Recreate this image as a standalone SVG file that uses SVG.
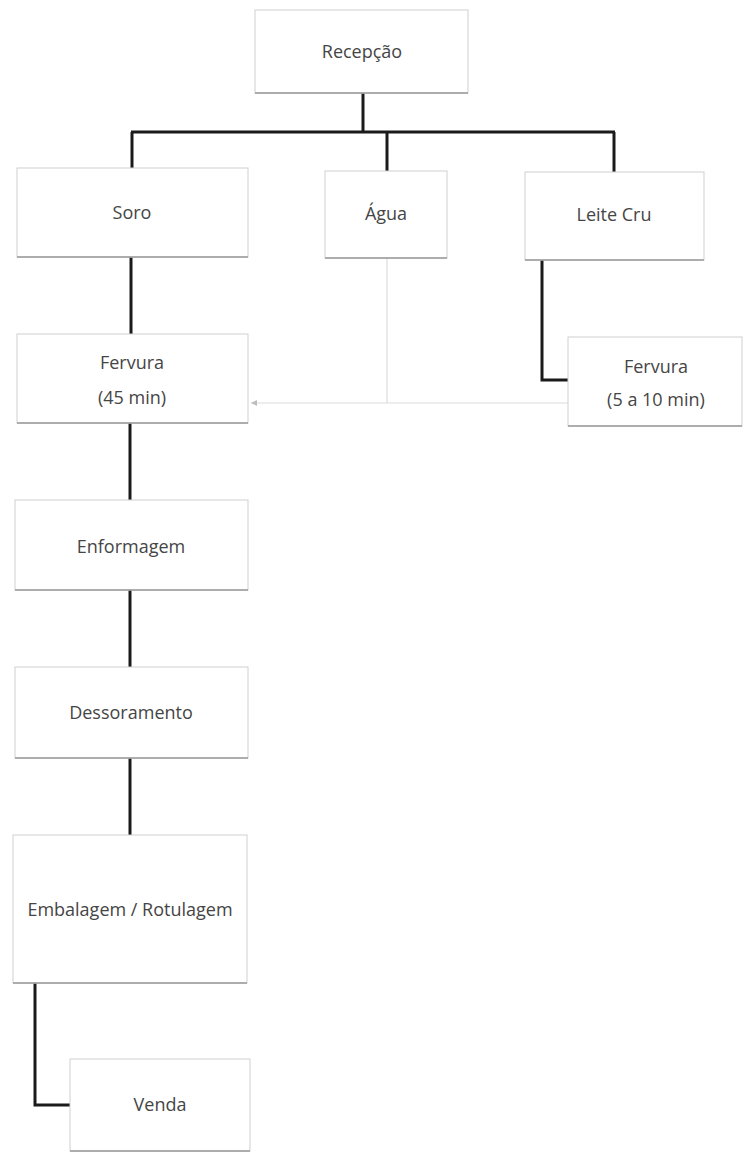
<svg xmlns="http://www.w3.org/2000/svg" width="747" height="1158" viewBox="0 0 747 1158">
  <style>
    .box { fill: #ffffff; stroke: #cfcfcf; stroke-width: 1; }
    .shade { stroke: #9a9a9a; stroke-width: 1.5; }
    .lbl { font-family: "Open Sans", "Noto Sans", sans-serif; font-size: 18px; fill: #454545; text-anchor: middle; }
    .link { fill: none; stroke: #1a1a1a; stroke-width: 3; }
    .thin { fill: none; stroke: #dcdcdc; stroke-width: 1.2; }
  </style>
  <defs>
    <marker id="arr" markerWidth="8" markerHeight="8" refX="7" refY="4" orient="auto" markerUnits="userSpaceOnUse">
      <path d="M7,4 L1,1 L1,7 Z" fill="#bdbdbd"/>
    </marker>
  </defs>
  <rect width="747" height="1158" fill="#ffffff"/>

  <g id="connectors">
    <path class="link" d="M363,93 V132"/>
    <path class="link" d="M131,132 H615"/>
    <path class="link" d="M132,132 V168"/>
    <path class="link" d="M387,132 V171"/>
    <path class="link" d="M614,132 V172"/>
    <path class="link" d="M542,260 V380 H568"/>
    <path class="link" d="M131,257 V334"/>
    <path class="link" d="M130,423 V500"/>
    <path class="link" d="M130,590 V667"/>
    <path class="link" d="M130,758 V835"/>
    <path class="link" d="M35,983 V1105 H70"/>
    <path class="thin" d="M387,258 V403"/>
    <path class="thin" d="M568,403 H251" marker-end="url(#arr)"/>
  </g>

  <g id="recepcao">
    <rect class="box" x="255" y="10" width="213" height="83"/>
    <line class="shade" x1="255" y1="93" x2="468" y2="93"/>
    <text class="lbl" x="362" y="58">Recepção</text>
  </g>

  <g id="soro">
    <rect class="box" x="17" y="168" width="231" height="89"/>
    <line class="shade" x1="17" y1="257" x2="248" y2="257"/>
    <text class="lbl" x="132" y="219">Soro</text>
  </g>

  <g id="agua">
    <rect class="box" x="325" y="171" width="122" height="87"/>
    <line class="shade" x1="325" y1="258" x2="447" y2="258"/>
    <text class="lbl" x="386" y="220">Água</text>
  </g>

  <g id="leite-cru">
    <rect class="box" x="525" y="172" width="179" height="88"/>
    <line class="shade" x1="525" y1="260" x2="704" y2="260"/>
    <text class="lbl" x="614" y="221">Leite Cru</text>
  </g>

  <g id="fervura-45">
    <rect class="box" x="17" y="334" width="231" height="89"/>
    <line class="shade" x1="17" y1="423" x2="248" y2="423"/>
    <text class="lbl" x="132" y="369">Fervura</text>
    <text class="lbl" x="132" y="404">(45 min)</text>
  </g>

  <g id="fervura-5-10">
    <rect class="box" x="568" y="337" width="174" height="89"/>
    <line class="shade" x1="568" y1="426" x2="742" y2="426"/>
    <text class="lbl" x="656" y="373">Fervura</text>
    <text class="lbl" x="656" y="406">(5 a 10 min)</text>
  </g>

  <g id="enformagem">
    <rect class="box" x="15" y="500" width="233" height="90"/>
    <line class="shade" x1="15" y1="590" x2="248" y2="590"/>
    <text class="lbl" x="131" y="553">Enformagem</text>
  </g>

  <g id="dessoramento">
    <rect class="box" x="15" y="667" width="233" height="91"/>
    <line class="shade" x1="15" y1="758" x2="248" y2="758"/>
    <text class="lbl" x="131" y="719">Dessoramento</text>
  </g>

  <g id="embalagem">
    <rect class="box" x="13" y="835" width="234" height="148"/>
    <line class="shade" x1="13" y1="983" x2="247" y2="983"/>
    <text class="lbl" x="130" y="916">Embalagem / Rotulagem</text>
  </g>

  <g id="venda">
    <rect class="box" x="70" y="1059" width="180" height="92"/>
    <line class="shade" x1="70" y1="1151" x2="250" y2="1151"/>
    <text class="lbl" x="160" y="1111">Venda</text>
  </g>
</svg>
